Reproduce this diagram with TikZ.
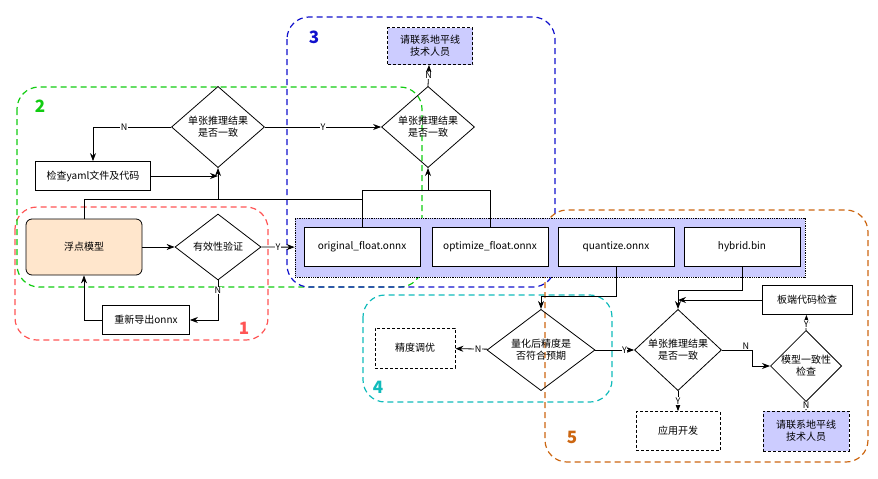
\documentclass[tikz,border=0pt]{standalone}
\usepackage{fontspec}
\setmainfont{Noto Sans CJK SC}
\usetikzlibrary{shapes.geometric, arrows.meta}
\definecolor{modelorange}{HTML}{FFE6CC}
\definecolor{contactblue}{HTML}{CCCCFF}
\definecolor{grpred}{HTML}{FF5555}
\definecolor{grpgreen}{HTML}{11CC11}
\definecolor{grpblue}{HTML}{1111CC}
\definecolor{grpcyan}{HTML}{11BBBB}
\definecolor{grporange}{HTML}{CC6611}
\tikzset{
  box/.style = {draw, thick, minimum height=29pt, align=center, inner sep=2pt},
  tbox/.style = {draw, densely dashed, thick, align=center, inner sep=2pt},
  dec/.style = {draw, diamond, thick, align=center, inner sep=0pt},
  grp/.style = {dashed, very thick, rounded corners=22pt, dash pattern=on 6pt off 4pt},
  glab/.style = {font=\bfseries\fontsize{17}{17}\selectfont},
  lab/.style = {font=\fontsize{9}{9}\selectfont, fill=white, inner sep=0.5pt},
  >={Stealth[length=8pt, width=6pt]}
}
\begin{document}
\begin{tikzpicture}[x=1pt, y=-1pt, font=\fontsize{10}{12}\selectfont]
			\useasboundingbox (0,0) rectangle (878,479);
			
			% groups
			\draw[grp, grpred] (15,207) rectangle (268,340);
			\draw[grp, grpgreen] (17,87) rectangle (422,287);
			\draw[grp, grpblue] (287,17) rectangle (555,287);
			\draw[grp, grpcyan] (363,295) rectangle (612,402);
			\draw[grp, grporange] (545,210) rectangle (868,462);
			\node[glab, text=grpred] (g1) at (244,328) {1};
			\node[glab, text=grpgreen] (g2) at (40,106) {2};
			\node[glab, text=grpblue] (g3) at (314,37) {3};
			\node[glab, text=grpcyan] (g4) at (378,387) {4};
			\node[glab, text=grporange] (g5) at (572,437) {5};
			
			% model files container
			\node[draw, densely dotted, thick, fill=contactblue, minimum width=510pt, minimum height=59pt] (files) at (550,247.5) {};
			\node[box, fill=white, minimum width=116pt, minimum height=39pt] (orig) at (362,247) {original\_float.onnx};
			\node[box, fill=white, minimum width=116pt, minimum height=39pt] (opt) at (490,247) {optimize\_float.onnx};
			\node[box, fill=white, minimum width=116pt, minimum height=39pt] (quant) at (616,247) {quantize.onnx};
			\node[box, fill=white, minimum width=116pt, minimum height=39pt] (hyb) at (742,247) {hybrid.bin};
			
			% stage 1 and 2
			\node[box, fill=modelorange, rounded corners=6pt, minimum width=116pt, minimum height=56pt] (model) at (84,247) {浮点模型};
			\node[dec, minimum width=86pt, minimum height=66pt] (valid) at (218,247) {有效性验证};
			\node[box, minimum width=87pt] (reexp) at (146,320) {重新导出onnx};
			\node[box, minimum width=115pt] (yaml) at (93,176) {检查yaml文件及代码};
			\node[dec, minimum width=93pt, minimum height=67pt] (same1) at (218,127) {单张推理结果\\是否一致};
			
			% stage 3
			\node[dec, minimum width=93pt, minimum height=67pt] (same2) at (428,127) {单张推理结果\\是否一致};
			\node[tbox, fill=contactblue, minimum width=85pt, minimum height=37pt] (help1) at (430,46) {请联系地平线\\技术人员};
			
			% stage 4 and 5
			\node[dec, minimum width=108pt, minimum height=76pt] (acc) at (541,350) {量化后精度是\\否符合预期};
			\node[tbox, minimum width=80pt, minimum height=40pt] (tune) at (415,348) {精度调优};
			\node[dec, minimum width=87pt, minimum height=76pt] (same3) at (678,350) {单张推理结果\\是否一致};
			\node[box, minimum width=90pt] (board) at (807,300) {板端代码检查};
			\node[dec, minimum width=66pt, minimum height=43pt] (cons) at (806,366) {模型一致性\\检查};
			\node[tbox, minimum width=84pt, minimum height=39pt] (app) at (678,431) {应用开发};
			\node[tbox, fill=contactblue, minimum width=86pt, minimum height=40pt] (help2) at (806,431) {请联系地平线\\技术人员};
			
			\draw[thick, ->] (model) -- (valid);
			\draw[thick, ->] (valid) -- node[lab] {Y} (files);
			\draw[thick, ->] (valid.south) -- node[lab, pos=0.25] {N} (218,320) -- (reexp);
			\draw[thick, ->] (reexp.west) -| (model.south);
			\draw[thick] (model.north) |- (362,199);
			\draw[thick, ->] (218,199) -- (same1.south);
			\draw[thick] (orig.north) -- (362,190) -| (opt.north);
			\draw[thick, ->] (428,190) -- (same2.south);
			\draw[thick, ->] (yaml.east) -- (218,176);
			\draw[thick, ->] (same1.west) -| node[lab, pos=0.3] {N} (yaml.north);
			\draw[thick, ->] (same1) -- node[lab] {Y} (same2);
			\draw[thick, ->] (same2.north) -- node[lab] {N} (help1);
			
			\draw[thick, ->] (quant.south) |- (541,296) -- (acc.north);
			\draw[thick, ->] (hyb.south) |- (678,290) -- (same3.north);
			\draw[thick, ->] (board.west) -- (678,300);
			\draw[thick, ->] (acc) -- node[lab, pos=0.3] {N} (tune);
			\draw[thick, ->] (acc) -- node[lab, pos=0.75] {Y} (same3);
			\draw[thick, ->] (same3.south) -- node[lab] {Y} (app);
			\draw[thick, ->] (same3.east) -- node[lab, pos=0.8, above] {N} (752,350) |- (cons.west);
			\draw[thick, ->] (cons.north) -- node[lab, pos=0.4] {Y} (board);
			\draw[thick, ->] (cons.south) -- node[lab, pos=0.4] {N} (help2);
			
\end{tikzpicture}
\end{document}
